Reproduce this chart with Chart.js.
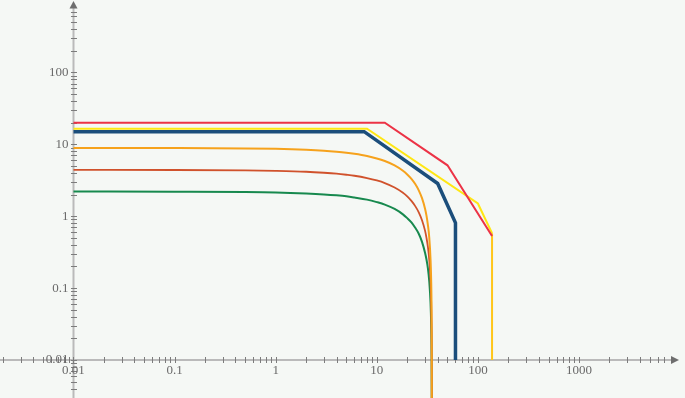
<!DOCTYPE html>
<html>
<head>
<meta charset="utf-8">
<script src="https://cdn.jsdelivr.net/npm/chart.js@4/dist/chart.umd.min.js"></script>
<style>
  html, body { margin: 0; padding: 0; background: #f5f8f5; }
  #c { display: block; }
</style>
</head>
<body>
<canvas id="c" width="685" height="398"></canvas>
<script>
// ---- data ----
const redX = [0.01, 12, 50, 138];
const redY = [20, 20, 5.1, 0.53];

const yellowX = [0.01, 8, 100, 138];
const yellowY = [16.5, 16.5, 1.5, 0.58];

const goldX = [138, 138];
const goldY = [0.58, 0.01];

const blueX = [0.01, 7.5, 40, 60, 60];
const blueY = [15, 15, 2.85, 0.81, 0.01];

const curveX = [0.01, 0.1, 0.5, 1, 2, 3, 4, 5, 6, 8, 10, 12, 15, 18, 20, 22, 24, 26, 28, 30, 31, 32, 33, 34, 34.5, 34.8, 34.95, 34.99];
const orangeY = [8.9, 8.87, 8.77, 8.65, 8.39, 8.14, 7.88, 7.63, 7.37, 6.87, 6.36, 5.85, 5.09, 4.32, 3.81, 3.31, 2.80, 2.29, 1.78, 1.27, 1.02, 0.76, 0.51, 0.25, 0.127, 0.051, 0.0127, 0.0025];
const rustY = [4.4, 4.39, 4.34, 4.27, 4.15, 4.02, 3.90, 3.77, 3.65, 3.39, 3.14, 2.89, 2.51, 2.14, 1.89, 1.63, 1.38, 1.13, 0.88, 0.63, 0.50, 0.377, 0.251, 0.126, 0.063, 0.025, 0.0063, 0.0013];
const greenY = [2.2, 2.19, 2.17, 2.14, 2.07, 2.01, 1.95, 1.89, 1.82, 1.70, 1.57, 1.45, 1.26, 1.07, 0.94, 0.82, 0.69, 0.57, 0.44, 0.31, 0.25, 0.19, 0.126, 0.063, 0.031, 0.0126, 0.0031, 0.0006];

const xTickVals = [0.01, 0.1, 1, 10, 100, 1000];
const xTickLabels = ['0.01', '0.1', '1', '10', '100', '1000'];
const yTickVals = [0.01, 0.1, 1, 10, 100];
const yTickLabels = ['0.01', '0.1', '1', '10', '100'];

// ---- helpers ----
function pts(xs, ys) { return xs.map((x, i) => ({ x: x, y: ys[i] })); }
function ds(xs, ys, color, width, order, smooth) {
  return {
    data: pts(xs, ys),
    borderColor: color,
    borderWidth: width,
    pointRadius: 0,
    fill: false,
    tension: 0,
    cubicInterpolationMode: smooth ? 'monotone' : 'default',
    borderJoinStyle: 'miter',
    order: order
  };
}

const BG = '#f5f8f5';

const axesPlugin = {
  id: 'axesPlugin',
  beforeDraw(chart) {
    const ctx = chart.ctx;
    ctx.save();
    ctx.fillStyle = BG;
    ctx.fillRect(0, 0, chart.width, chart.height);
    ctx.restore();
  },
  beforeDatasetsDraw(chart) {
    const ctx = chart.ctx;
    const xs = chart.scales.x, ys = chart.scales.y;
    const ox = xs.getPixelForValue(0.01);
    const oy = Math.round(ys.getPixelForValue(0.01));
    const H = chart.height;
    ctx.save();
    // axis lines
    ctx.strokeStyle = '#bababa';
    ctx.lineWidth = 2;
    ctx.beginPath(); ctx.moveTo(0, oy); ctx.lineTo(672, oy); ctx.stroke();
    ctx.beginPath(); ctx.moveTo(ox, H); ctx.lineTo(ox, 8); ctx.stroke();
    // ticks
    ctx.strokeStyle = '#7c7c7c';
    ctx.lineWidth = 1;
    for (let e = -3; e <= 4; e++) {
      for (let k = 1; k <= 9; k++) {
        const v = k * Math.pow(10, e);
        const px = xs.getPixelForValue(v);
        if (px > 1 && px < 668) {
          const p = Math.round(px) + 0.5;
          ctx.beginPath(); ctx.moveTo(p, oy - 3); ctx.lineTo(p, oy + 3); ctx.stroke();
        }
        const py = ys.getPixelForValue(v);
        if (py > 10 && py < H) {
          const q = Math.round(py) + 0.5;
          ctx.beginPath(); ctx.moveTo(ox - 2.5, q); ctx.lineTo(ox + 3.5, q); ctx.stroke();
        }
      }
    }
    // arrows
    ctx.fillStyle = '#6e6e6e';
    ctx.beginPath(); ctx.moveTo(679, oy); ctx.lineTo(671, oy - 4); ctx.lineTo(671, oy + 4); ctx.closePath(); ctx.fill();
    ctx.beginPath(); ctx.moveTo(ox, 1); ctx.lineTo(ox - 4, 8.5); ctx.lineTo(ox + 4, 8.5); ctx.closePath(); ctx.fill();
    // labels
    ctx.fillStyle = '#6a6a6a';
    ctx.font = '13px "Liberation Serif", "Times New Roman", serif';
    ctx.textBaseline = 'middle';
    ctx.textAlign = 'center';
    xTickVals.forEach((v, i) => {
      ctx.fillText(xTickLabels[i], xs.getPixelForValue(v), oy + 11);
    });
    ctx.textAlign = 'right';
    yTickVals.forEach((v, i) => {
      ctx.fillText(yTickLabels[i], ox - 5, ys.getPixelForValue(v));
    });
    ctx.restore();
  }
};

new Chart(document.getElementById('c'), {
  type: 'line',
  data: {
    datasets: [
      ds(curveX, greenY, '#17894e', 2, 7, true),
      ds(curveX, rustY, '#d0522c', 1.8, 6, true),
      ds(yellowX, yellowY, '#ffe714', 2, 5, false),
      ds(goldX, goldY, '#ffc61a', 2, 4, false),
      ds(redX, redY, '#ec3346', 2, 3, false),
      ds(blueX, blueY, '#1b4e7b', 3.5, 2, false),
      ds(curveX, orangeY, '#f6a21c', 2, 1, true)
    ]
  },
  options: {
    responsive: false,
    animation: false,
    events: [],
    layout: { padding: 0 },
    plugins: { legend: { display: false }, tooltip: { enabled: false } },
    scales: {
      x: { type: 'logarithmic', display: false, min: 0.001875, max: 11180 },
      y: { type: 'logarithmic', display: false, min: 0.00296, max: 1016 }
    }
  },
  plugins: [axesPlugin]
});
</script>
</body>
</html>
